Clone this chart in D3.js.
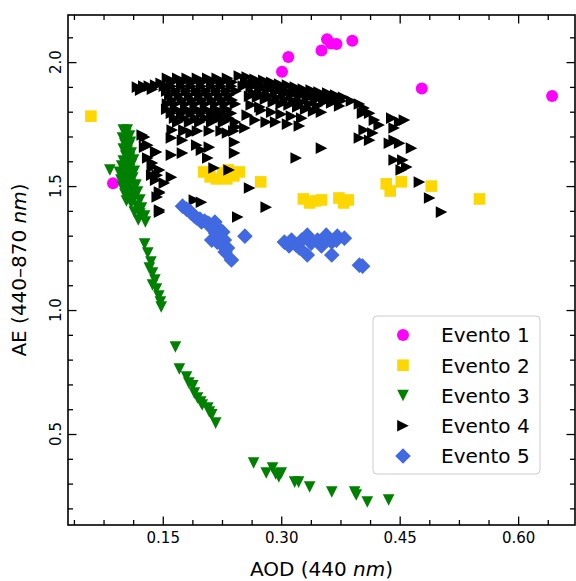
<!DOCTYPE html>
<html>
<head>
<meta charset="utf-8">
<script src="https://cdn.jsdelivr.net/npm/d3@7"></script>
<style>
  body { margin: 0; background: #fff; }
  svg { display: block; font-family: "DejaVu Sans", sans-serif; }
</style>
</head>
<body>
<div class="canvas"></div>
<script>
// AOD (x) and AE (y) for every event
const event1 = [
  [0.087,1.511],[0.301,1.961],[0.309,2.021],[0.351,2.047],[0.358,2.092],
  [0.363,2.075],[0.370,2.073],[0.390,2.086],[0.478,1.894],[0.643,1.863]
];

const event2 = [
  [0.059,1.782],[0.202,1.557],[0.210,1.537],[0.218,1.529],[0.226,1.553],
  [0.233,1.565],[0.240,1.541],[0.247,1.557],[0.231,1.529],[0.274,1.517],
  [0.328,1.448],[0.336,1.432],[0.343,1.440],[0.351,1.444],[0.373,1.452],
  [0.379,1.432],[0.385,1.444],[0.433,1.509],[0.438,1.480],[0.452,1.517],
  [0.490,1.500],[0.551,1.448]
];

const event3 = [
  [0.083,1.565],
  [0.100,1.726],[0.105,1.726],[0.103,1.710],[0.108,1.702],[0.099,1.694],[0.104,1.685],
  [0.109,1.677],[0.102,1.669],[0.107,1.661],[0.100,1.649],[0.105,1.641],[0.110,1.633],
  [0.103,1.621],[0.108,1.613],[0.113,1.605],[0.100,1.601],[0.105,1.593],[0.110,1.585],
  [0.098,1.581],[0.103,1.573],[0.108,1.565],[0.114,1.560],[0.095,1.556],[0.100,1.544],
  [0.105,1.536],[0.112,1.532],[0.097,1.524],[0.103,1.516],[0.109,1.508],[0.116,1.504],
  [0.099,1.496],[0.105,1.488],[0.112,1.480],[0.118,1.476],[0.102,1.468],[0.108,1.460],
  [0.114,1.452],[0.121,1.444],[0.104,1.440],[0.110,1.431],[0.117,1.419],[0.123,1.411],
  [0.114,1.395],[0.121,1.387],[0.127,1.379],[0.119,1.363],[0.128,1.355],
  [0.127,1.266],[0.131,1.230],[0.135,1.194],[0.133,1.169],[0.137,1.149],[0.140,1.121],
  [0.137,1.101],[0.142,1.085],[0.145,1.056],[0.147,1.032],[0.148,1.012],
  [0.166,0.851],[0.171,0.762],[0.180,0.730],[0.188,0.694],[0.190,0.665],[0.194,0.645],
  [0.200,0.617],[0.207,0.605],[0.212,0.577],[0.217,0.544],[0.183,0.706],[0.198,0.629],
  [0.209,0.589],
  [0.265,0.383],[0.281,0.343],[0.289,0.363],[0.293,0.339],[0.297,0.327],[0.300,0.343],
  [0.317,0.306],[0.322,0.306],[0.336,0.286],[0.364,0.266],[0.393,0.266],[0.395,0.254],
  [0.409,0.226],[0.436,0.234]
];

const event4 = [
  // left arm of the dense band
  [0.118,1.899],[0.126,1.903],[0.133,1.903],[0.141,1.907],[0.148,1.915],[0.122,1.887],[0.137,1.891],
  // left block
  [0.156,1.935],[0.169,1.935],[0.181,1.935],[0.194,1.935],[0.207,1.935],[0.219,1.935],[0.232,1.935],
  [0.162,1.919],[0.175,1.919],[0.188,1.919],[0.200,1.919],[0.213,1.919],[0.226,1.919],[0.238,1.919],
  [0.152,1.903],[0.161,1.903],[0.174,1.903],[0.186,1.903],[0.199,1.903],[0.212,1.903],[0.224,1.903],[0.237,1.903],
  [0.155,1.883],[0.167,1.883],[0.180,1.883],[0.193,1.883],[0.205,1.883],[0.218,1.883],[0.231,1.883],[0.243,1.883],
  [0.159,1.867],[0.171,1.867],[0.184,1.867],[0.197,1.867],[0.209,1.867],[0.222,1.867],[0.234,1.867],
  [0.162,1.847],[0.175,1.847],[0.188,1.847],[0.200,1.847],[0.213,1.847],[0.226,1.847],[0.238,1.847],
  [0.156,1.831],[0.166,1.831],[0.179,1.831],[0.191,1.831],[0.204,1.831],[0.217,1.831],[0.229,1.831],[0.242,1.831],
  [0.155,1.810],[0.167,1.810],[0.180,1.810],[0.193,1.810],[0.205,1.810],[0.218,1.810],[0.231,1.810],
  [0.161,1.794],[0.174,1.794],[0.186,1.794],[0.199,1.794],[0.212,1.794],[0.224,1.794],[0.237,1.794],
  [0.165,1.774],[0.177,1.774],[0.191,1.774],[0.204,1.774],[0.219,1.774],[0.234,1.774],
  [0.169,1.758],[0.184,1.758],[0.197,1.758],[0.212,1.758],[0.227,1.758],[0.242,1.758],
  [0.177,1.722],[0.194,1.722],[0.209,1.722],[0.224,1.722],[0.240,1.722],
  // right block, sloping down
  [0.247,1.944],[0.257,1.940],[0.267,1.931],[0.278,1.927],[0.288,1.919],[0.298,1.911],[0.308,1.907],[0.318,1.899],
  [0.328,1.891],[0.338,1.887],[0.348,1.879],[0.359,1.875],[0.369,1.867],[0.379,1.858],[0.389,1.843],[0.399,1.831],
  [0.255,1.920],[0.265,1.914],[0.275,1.907],[0.285,1.901],[0.295,1.894],[0.305,1.888],[0.316,1.881],[0.326,1.875],
  [0.336,1.869],[0.346,1.862],[0.356,1.856],[0.366,1.849],[0.376,1.843],
  [0.252,1.903],[0.262,1.899],[0.273,1.891],[0.283,1.887],[0.293,1.879],[0.303,1.871],[0.313,1.867],[0.323,1.862],
  [0.333,1.854],[0.343,1.847],[0.354,1.839],[0.364,1.835],[0.374,1.823],
  [0.265,1.875],[0.275,1.869],[0.285,1.863],[0.295,1.856],[0.305,1.850],[0.316,1.843],[0.326,1.837],[0.336,1.830],
  [0.346,1.824],
  [0.260,1.862],[0.270,1.858],[0.280,1.850],[0.290,1.839],[0.300,1.831],[0.310,1.827],[0.321,1.819],[0.331,1.810],
  [0.341,1.802],[0.351,1.798],
  [0.262,1.827],[0.257,1.786],[0.267,1.766],
  [0.275,1.806],[0.288,1.798],[0.300,1.790],[0.313,1.782],[0.326,1.774],
  [0.293,1.758],[0.308,1.750],[0.323,1.742],
  // right tail
  [0.405,1.815],[0.403,1.794],[0.412,1.794],[0.418,1.766],[0.424,1.746],[0.440,1.774],[0.450,1.758],[0.456,1.766],
  [0.443,1.734],[0.405,1.726],[0.416,1.714],[0.399,1.694],[0.412,1.685],[0.437,1.673],[0.443,1.685],[0.450,1.673],
  [0.465,1.653],[0.443,1.605],[0.454,1.605],[0.459,1.577],[0.452,1.565],[0.475,1.516],[0.488,1.452],[0.503,1.395],
  [0.351,1.653],[0.319,1.613],
  // scattered below the band
  [0.127,1.698],[0.127,1.657],[0.142,1.637],[0.131,1.613],[0.161,1.694],[0.175,1.685],[0.193,1.665],[0.209,1.657],
  [0.161,1.625],[0.175,1.633],[0.207,1.613],[0.199,1.645],[0.241,1.677],[0.241,1.633],[0.137,1.577],[0.143,1.544],
  [0.136,1.544],[0.161,1.536],[0.152,1.512],[0.146,1.472],[0.143,1.456],[0.146,1.395],[0.215,1.573],[0.234,1.565],
  [0.260,1.492],[0.190,1.444],[0.199,1.435],[0.281,1.415],[0.245,1.375],[0.162,1.726],[0.177,1.726],[0.186,1.714],
  [0.232,1.714],[0.213,1.774],[0.224,1.778],[0.231,1.766],[0.243,1.738],[0.254,1.734],[0.281,1.758],[0.273,1.819],
  [0.124,1.706],[0.131,1.665],[0.141,1.637],[0.137,1.593],[0.146,1.565],[0.141,1.524],[0.146,1.476],[0.146,1.403]
];

const event5 = [
  [0.175,1.419],[0.180,1.407],[0.184,1.399],[0.186,1.391],[0.190,1.379],[0.193,1.371],[0.197,1.367],
  [0.199,1.355],[0.203,1.359],[0.207,1.351],[0.209,1.347],[0.216,1.355],[0.219,1.335],[0.213,1.327],
  [0.217,1.310],[0.226,1.315],[0.222,1.298],[0.212,1.282],[0.228,1.282],[0.219,1.274],[0.224,1.266],
  [0.232,1.250],[0.229,1.234],[0.237,1.202],[0.254,1.298],
  [0.304,1.274],[0.310,1.258],[0.313,1.282],[0.319,1.262],[0.323,1.250],[0.326,1.282],[0.333,1.302],
  [0.338,1.270],[0.333,1.222],[0.346,1.282],[0.351,1.258],[0.357,1.302],[0.364,1.274],[0.370,1.282],
  [0.371,1.298],[0.364,1.222],[0.380,1.290],[0.399,1.181],[0.403,1.177]
];

const seriesNames = ["Evento 1", "Evento 2", "Evento 3", "Evento 4", "Evento 5"];
const seriesColors = ["#ff00ff", "#ffd700", "#008000", "#000000", "#4169e1"];

const xMajor = [0.15, 0.30, 0.45, 0.60];
const xMinor = [0.0375, 0.075, 0.1125, 0.1875, 0.225, 0.2625, 0.3375, 0.375, 0.4125, 0.4875, 0.525, 0.5625, 0.6375];
const yMajor = [0.5, 1.0, 1.5, 2.0];
const yMinor = [0.2, 0.3, 0.4, 0.6, 0.7, 0.8, 0.9, 1.1, 1.2, 1.3, 1.4, 1.6, 1.7, 1.8, 1.9, 2.1];

const W = 576, H = 581;
const mLeft = 68, mRight = 575, mTop = 15, mBottom = 525;

const svg = d3.select(".canvas").append("svg").attr("width", W).attr("height", H);
svg.append("rect").attr("width", W).attr("height", H).attr("fill", "#fff");

const x = d3.scaleLinear().domain([0.030, 0.672]).range([mLeft, mRight]);
const y = d3.scaleLinear().domain([0.133, 2.190]).range([mBottom, mTop]);

// marker shapes, same size as matplotlib's
const s = 5.8;
const shapes = [
  (p) => { p.arc(0, 0, 6, 0, 2 * Math.PI); },
  (p) => { p.rect(-s, -s, 2 * s, 2 * s); },
  (p) => { p.moveTo(0, s); p.lineTo(-s, -s); p.lineTo(s, -s); p.closePath(); },
  (p) => { p.moveTo(s, 0); p.lineTo(-s, -s); p.lineTo(-s, s); p.closePath(); },
  (p) => { const r = 7.8; p.moveTo(0, -r); p.lineTo(r, 0); p.lineTo(0, r); p.lineTo(-r, 0); p.closePath(); }
];
let markerPath = (i) => {
  const p = d3.path();
  shapes[i](p);
  return p.toString();
};

// points
const plot = svg.append("g");
[event1, event2, event3, event4, event5].forEach((data, i) => {
  plot.append("g")
    .selectAll("path")
    .data(data)
    .join("path")
    .attr("transform", (d) => `translate(${x(d[0])},${y(d[1])})`)
    .attr("d", markerPath(i))
    .attr("fill", seriesColors[i]);
});

// axes with inward ticks on all four sides
let styleAxis = (g) => {
  g.select(".domain").remove();
  g.selectAll(".tick line").attr("stroke", "#000").attr("stroke-width", 1.3);
};
svg.append("g").attr("transform", `translate(0,${mBottom})`)
  .call(d3.axisBottom(x).tickValues(xMajor).tickSize(-8.5).tickPadding(7).tickFormat(d3.format(".2f")))
  .call(styleAxis)
  .selectAll("text").attr("font-size", 15).attr("font-family", "DejaVu Sans").attr("fill", "#000");
svg.append("g").attr("transform", `translate(0,${mBottom})`)
  .call(d3.axisBottom(x).tickValues(xMinor).tickSize(-5).tickFormat("")).call(styleAxis);
svg.append("g").attr("transform", `translate(0,${mTop})`)
  .call(d3.axisTop(x).tickValues(xMajor).tickSize(-8.5).tickFormat("")).call(styleAxis);
svg.append("g").attr("transform", `translate(0,${mTop})`)
  .call(d3.axisTop(x).tickValues(xMinor).tickSize(-5).tickFormat("")).call(styleAxis);
svg.append("g").attr("transform", `translate(${mLeft},0)`)
  .call(d3.axisLeft(y).tickValues(yMajor).tickSize(-8.5).tickFormat("")).call(styleAxis);
svg.append("g").attr("transform", `translate(${mLeft},0)`)
  .call(d3.axisLeft(y).tickValues(yMinor).tickSize(-5).tickFormat("")).call(styleAxis);
svg.append("g").attr("transform", `translate(${mRight},0)`)
  .call(d3.axisRight(y).tickValues(yMajor).tickSize(-8.5).tickFormat("")).call(styleAxis);
svg.append("g").attr("transform", `translate(${mRight},0)`)
  .call(d3.axisRight(y).tickValues(yMinor).tickSize(-5).tickFormat("")).call(styleAxis);

// y tick labels are rotated
svg.append("g")
  .selectAll("text")
  .data(yMajor)
  .join("text")
  .attr("transform", (d) => `translate(61,${y(d)}) rotate(-90)`)
  .attr("text-anchor", "middle")
  .attr("font-size", 15)
  .text(d3.format(".1f"));

svg.append("rect")
  .attr("x", mLeft).attr("y", mTop)
  .attr("width", mRight - mLeft).attr("height", mBottom - mTop)
  .attr("fill", "none").attr("stroke", "#000").attr("stroke-width", 1.6);

// axis titles
const xt = svg.append("text")
  .attr("x", (mLeft + mRight) / 2).attr("y", 576)
  .attr("text-anchor", "middle").attr("font-size", 20);
xt.append("tspan").text("AOD (440 ");
xt.append("tspan").attr("font-style", "italic").text("nm");
xt.append("tspan").text(")");

const yt = svg.append("text")
  .attr("transform", `translate(26,${(mTop + mBottom) / 2}) rotate(-90)`)
  .attr("text-anchor", "middle").attr("font-size", 20);
yt.append("tspan").text("AE (440\u2013870 ");
yt.append("tspan").attr("font-style", "italic").text("nm");
yt.append("tspan").text(")");

// legend
const lg = svg.append("g");
lg.append("rect")
  .attr("x", 373).attr("y", 316).attr("width", 167).attr("height", 158)
  .attr("rx", 4).attr("fill", "#fff").attr("fill-opacity", 0.8)
  .attr("stroke", "#cccccc").attr("stroke-width", 1);
const rowY = d3.scalePoint().domain(seriesNames).range([335, 456]);
seriesNames.forEach((name, i) => {
  lg.append("path")
    .attr("transform", `translate(403,${rowY(name)})`)
    .attr("d", markerPath(i))
    .attr("fill", seriesColors[i]);
  lg.append("text")
    .attr("x", 441).attr("y", rowY(name) + 7.3)
    .attr("font-size", 20)
    .text(name);
});
</script>
</body>
</html>
